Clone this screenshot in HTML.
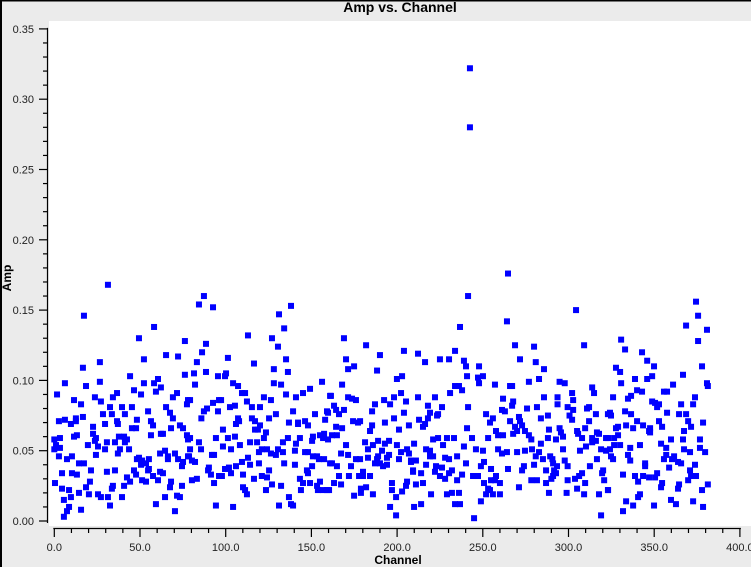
<!DOCTYPE html>
<html><head><meta charset="utf-8"><style>
html,body{margin:0;padding:0;background:#ebebeb;}
svg{display:block;font-family:"Liberation Sans",sans-serif;}
</style></head><body>
<svg id="chart" width="751" height="567" viewBox="0 0 751 567">
<rect x="0" y="0" width="751" height="567" fill="#ebebeb"/>
<rect x="0" y="0" width="2" height="567" fill="#000"/>
<rect x="0" y="0" width="751" height="1.5" fill="#000"/>
<rect x="49" y="21" width="702" height="505" fill="#fff"/>
<text x="400" y="12" text-anchor="middle" font-size="14" font-weight="bold">Amp vs. Channel</text>
<g id="yaxis"></g>
<g id="xaxis"></g>
<text x="398" y="564" text-anchor="middle" font-size="12" font-weight="bold">Channel</text>
<text x="0" y="0" transform="translate(11,278) rotate(-90)" text-anchor="middle" font-size="12" font-weight="bold">Amp</text>
<g id="points"></g>
</svg>
<script>
const yTicks = [0, 0.05, 0.10, 0.15, 0.20, 0.25, 0.30, 0.35];
const yTickLabels = ["0.00","0.05","0.10","0.15","0.20","0.25","0.30","0.35"];
const xTicks = [0, 50, 100, 150, 200, 250, 300, 350, 400];
const xTickLabels = ["0.0","50.0","100.0","150.0","200.0","250.0","300.0","350.0","400.0"];

const channels = [
31.3,17.3,58.2,49.4,76.2,52.3,65.2,72.2,26.6,16.7,
44.2,76.2,6.2,18.5,26.6,52.3,58.2,60.5,62.2,59.3,
46.5,50.6,71.6,69.2,1.6,11.5,15.6,23.7,27.2,34.2,
36.6,32.5,39.5,45.3,54.7,65.2,67.5,69.2,77.4,78.0,
28.4,33.6,41.2,6.2,2.7,9.7,12.6,12.6,16.7,22.6,
29.6,36.6,37.1,45.3,47.7,48.2,56.4,57.6,68.1,73.3,
75.1,11.5,13.2,22.6,24.3,37.7,40.7,42.4,41.2,56.4,
62.2,63.4,77.4,78.0,0,3.3,1.0,3.3,0,19.6,
23.7,25.5,29.6,30.7,35.4,43.6,38.3,37.1,24.3,2.7,
7.4,10.3,14.4,17.3,21.4,30.7,35.4,46.5,47.7,42.4,
44.2,49.4,48.2,51.2,50.6,53.5,55.2,54.7,55.2,57.6,
61.7,63.4,60.5,51.2,53.5,61.7,64.6,66.3,66.3,70.4,
72.2,75.1,74.5,78.0,4.5,10.3,13.2,0.4,4.5,8.6,
14.4,18.5,20.2,20.8,25.5,27.2,31.3,33.6,34.2,40.7,
39.5,32.5,15.6,5.6,9.7,8.6,7.4,5.6,59.3,64.6,
67.5,68.1,71.6,73.3,74.5,70.4,
87.3,84.4,92.6,138.1,131.1,134.1,113.0,127.0,130.5,88.5,
86.2,83.2,101.3,116.5,135.2,128.1,136.3,81.5,88.5,95.5,
100.2,99.6,82.1,104.3,107.2,128.1,132.3,156.2,149.2,145.1,
141.0,135.2,109.5,111.3,122.3,126.4,112.4,79.2,92.6,96.1,
97.3,89.1,87.3,95.5,102.5,105.4,115.3,120.0,139.3,152.1,
159.1,160.9,158.0,85.8,107.2,107.8,106.0,115.3,117.1,120.0,
125.3,129.3,136.9,142.2,142.2,146.3,148.0,98.4,117.1,118.8,
123.5,94.3,101.3,105.4,122.3,136.3,143.3,150.9,150.4,155.0,
157.4,156.8,159.7,79.2,84.4,98.4,103.1,108.3,114.2,118.3,
121.1,119.4,124.1,126.4,129.3,130.5,133.4,133.4,141.0,140.4,
146.3,148.0,150.9,153.3,154.4,157.4,160.9,79.2,85.6,92.0,
93.2,78.6,80.3,82.1,113.0,109.5,114.2,119.4,134.1,140.4,
150.4,147.4,148.0,125.3,90.2,89.7,91.4,99.6,101.9,106.0,
103.1,96.1,97.8,110.1,116.5,124.1,121.1,80.3,83.2,93.2,
110.1,111.3,112.4,123.5,127.0,132.3,143.3,145.1,149.2,153.3,
155.0,153.8,156.8,159.1,143.9,136.9,94.3,104.3,131.1,138.1,
139.3,
241.4,236.7,169.0,181.9,190.0,204.0,212.2,233.8,216.3,225.0,
230.3,239.0,240.2,170.2,171.4,174.9,188.3,199.9,202.9,240.8,
167.9,233.8,236.1,237.9,230.9,222.1,212.2,202.3,205.2,198.2,
192.4,195.9,187.1,185.4,176.0,173.7,171.4,161.4,163.2,164.4,
169.0,166.1,159.7,218.0,226.2,219.2,223.9,223.3,218.0,212.8,
216.3,215.1,204.0,198.2,206.9,201.1,192.9,185.4,184.2,178.4,
174.3,177.2,167.9,164.4,162.0,164.9,241.4,240.8,170.2,181.3,
185.9,188.9,192.9,195.3,199.9,209.9,205.8,202.3,206.9,216.9,
219.2,221.0,223.9,229.1,233.2,226.8,239.0,167.3,171.4,183.0,
188.9,191.2,195.3,188.3,194.1,183.0,176.0,178.4,201.1,208.1,
211.0,219.2,221.0,228.0,230.3,235.0,240.2,162.0,164.9,173.1,
187.1,190.0,191.8,194.1,208.1,209.3,209.3,216.9,222.7,226.2,
232.0,230.3,214.0,222.1,225.0,228.0,235.0,237.9,180.1,180.1,
184.2,166.1,171.9,177.8,163.2,167.3,160.3,181.9,178.9,178.9,
174.9,185.9,197.0,197.0,202.9,205.8,205.2,211.0,215.1,219.8,
229.1,232.0,236.1,199.4,195.9,199.4,209.9,214.0,233.8,236.7,
304.4,264.1,268.8,279.9,309.1,271.7,280.9,285.7,247.8,250.1,
247.2,247.8,257.1,265.9,267.1,276.9,282.8,294.8,297.8,313.8,
314.9,302.1,302.7,293.6,285.7,261.8,267.7,267.1,261.2,262.9,
275.8,281.6,293.6,299.5,302.7,310.8,312.0,316.0,323.0,300.6,
302.1,288.0,283.9,251.9,255.9,254.2,265.9,271.1,271.7,268.8,
272.9,270.0,274.6,276.9,278.3,257.7,258.9,261.8,267.7,288.6,
294.8,295.6,296.8,305.0,309.7,305.6,312.0,316.6,317.8,313.8,
321.9,316.0,313.8,310.2,307.9,292.7,288.0,283.9,243.7,253.1,
246.0,250.1,258.9,261.2,264.1,270.0,274.6,278.7,280.9,282.8,
285.1,289.3,291.0,297.8,296.8,306.7,319.0,321.9,316.6,312.5,
299.5,293.3,290.6,274.0,279.9,250.7,248.9,254.8,264.7,272.9,
286.9,291.6,292.7,291.0,320.2,319.6,320.8,307.9,306.2,303.8,
299.5,309.7,244.3,247.2,250.7,254.8,257.7,260.0,257.1,253.1,
254.2,251.9,255.9,260.0,271.1,278.3,281.6,286.9,290.0,288.6,
298.9,305.0,309.1,317.8,323.0,248.9,244.9,319.0,
242.5,242.5,264.7,
374.4,375.6,368.6,380.8,375.6,330.7,333.0,342.9,345.9,349.9,
377.9,327.7,330.1,366.8,338.8,345.9,348.8,361.0,380.8,381.3,
330.7,340.0,342.9,355.7,357.5,336.5,334.7,326.0,373.8,348.8,
350.5,352.8,351.7,365.7,372.7,357.5,364.5,368.6,333.0,336.5,
324.2,324.8,340.0,333.6,337.7,343.5,347.6,347.0,347.6,354.6,
352.8,369.8,371.5,378.5,367.4,327.7,328.9,326.6,328.9,323.1,
341.7,336.0,330.1,326.6,354.0,357.0,359.8,366.8,376.7,376.7,
379.7,367.4,370.9,357.0,355.7,361.6,360.4,363.9,365.7,324.2,
324.8,326.0,334.7,336.0,344.7,344.7,358.7,373.8,370.9,331.8,
338.8,343.5,347.0,350.5,351.7,340.6,354.6,354.0,364.5,363.9,
369.8,371.5,374.4,381.3,377.9,323.1,341.7,340.6,333.6,337.7,
349.9,359.8,362.7,372.7,378.5,331.8
];

const amps = [
.168,.146,.138,.130,.128,.115,.118,.117,.113,.109,
.103,.104,.098,.096,.099,.098,.098,.101,.095,.092,
.093,.090,.091,.088,.090,.086,.083,.088,.085,.088,
.091,.081,.081,.081,.078,.081,.077,.073,.083,.086,
.076,.076,.076,.072,.071,.069,.073,.071,.074,.067,
.069,.071,.069,.066,.066,.072,.071,.068,.066,.068,
.066,.060,.061,.062,.059,.060,.060,.058,.056,.061,
.062,.062,.061,.058,.058,.059,.054,.052,.051,.054,
.057,.053,.051,.056,.056,.051,.051,.048,.047,.046,
.044,.046,.041,.041,.036,.035,.036,.036,.033,.031,
.028,.045,.044,.043,.040,.041,.044,.036,.037,.032,
.035,.034,.029,.029,.028,.048,.050,.046,.044,.048,
.044,.042,.039,.046,.034,.034,.033,.027,.023,.022,
.020,.024,.019,.028,.019,.017,.017,.023,.025,.025,
.017,.011,.008,.015,.017,.010,.007,.003,.012,.017,
.024,.028,.018,.017,.025,.007,
.160,.154,.152,.153,.147,.137,.132,.130,.124,.126,
.120,.113,.116,.112,.115,.108,.106,.105,.106,.103,
.105,.103,.097,.098,.096,.098,.097,.099,.094,.091,
.088,.090,.091,.091,.088,.086,.085,.086,.084,.086,
.086,.080,.078,.078,.081,.082,.081,.081,.078,.076,
.078,.089,.072,.073,.073,.071,.069,.073,.071,.068,
.073,.076,.070,.070,.069,.071,.068,.065,.065,.065,
.063,.059,.059,.060,.059,.059,.059,.060,.057,.061,
.062,.059,.058,.059,.056,.053,.051,.054,.056,.056,
.051,.049,.051,.048,.047,.051,.056,.049,.055,.050,
.049,.049,.046,.046,.044,.044,.041,.051,.051,.047,
.047,.046,.043,.042,.045,.042,.040,.041,.041,.040,
.039,.036,.034,.036,.038,.036,.033,.037,.038,.039,
.034,.032,.032,.033,.030,.031,.032,.029,.030,.027,
.024,.022,.019,.022,.026,.025,.030,.027,.027,.025,
.028,.022,.022,.022,.022,.017,.011,.010,.011,.012,
.011,
.160,.138,.130,.125,.118,.121,.119,.121,.113,.115,
.115,.114,.110,.115,.108,.110,.107,.101,.103,.103,
.097,.096,.096,.093,.091,.088,.088,.091,.085,.088,
.086,.083,.083,.078,.086,.087,.088,.089,.082,.079,
.079,.076,.077,.082,.081,.077,.076,.075,.073,.072,
.069,.067,.077,.073,.068,.065,.070,.068,.064,.071,
.071,.070,.066,.067,.061,.061,.081,.066,.054,.056,
.054,.057,.055,.057,.054,.055,.051,.049,.048,.051,
.050,.058,.059,.059,.059,.054,.053,.048,.047,.051,
.046,.050,.047,.044,.045,.045,.044,.044,.044,.043,
.043,.046,.046,.045,.044,.046,.041,.041,.039,.039,
.041,.041,.039,.040,.042,.036,.035,.040,.039,.038,
.036,.034,.034,.035,.032,.030,.029,.033,.035,.032,
.032,.032,.032,.032,.027,.026,.022,.024,.023,.020,
.018,.019,.027,.022,.021,.028,.025,.026,.027,.019,
.019,.020,.020,.017,.010,.004,.010,.012,.012,.012,
.150,.142,.125,.124,.125,.115,.113,.108,.110,.103,
.102,.098,.097,.096,.096,.099,.101,.099,.098,.095,
.091,.091,.086,.088,.088,.087,.085,.082,.079,.078,
.080,.081,.083,.081,.079,.080,.081,.076,.076,.075,
.072,.075,.073,.076,.073,.070,.071,.074,.071,.067,
.068,.064,.064,.061,.058,.064,.061,.061,.062,.065,
.066,.063,.060,.064,.066,.062,.071,.063,.062,.059,
.059,.057,.056,.053,.059,.058,.059,.055,.059,.059,
.051,.050,.051,.048,.049,.049,.050,.051,.046,.049,
.044,.046,.041,.043,.051,.050,.051,.050,.044,.039,
.039,.039,.044,.039,.040,.042,.039,.037,.037,.036,
.036,.036,.034,.032,.036,.034,.029,.034,.032,.030,
.029,.027,.032,.032,.027,.029,.032,.027,.029,.023,
.022,.019,.019,.019,.024,.029,.029,.027,.030,.020,
.020,.023,.019,.019,.022,.014,.002,.004,
.322,.280,.176,
.156,.146,.139,.136,.128,.129,.122,.120,.114,.110,
.110,.109,.106,.104,.101,.101,.103,.097,.098,.096,
.098,.093,.092,.092,.092,.089,.087,.088,.088,.085,
.084,.083,.081,.083,.083,.077,.076,.076,.078,.076,
.077,.075,.071,.068,.066,.068,.066,.064,.063,.067,
.071,.071,.067,.070,.064,.066,.067,.059,.061,.059,
.054,.052,.054,.054,.055,.052,.058,.058,.058,.052,
.049,.051,.049,.047,.044,.046,.044,.042,.041,.051,
.046,.044,.047,.043,.041,.039,.038,.040,.036,.033,
.032,.032,.031,.031,.034,.028,.027,.024,.026,.023,
.029,.032,.032,.026,.022,.022,.019,.017,.014,.011,
.011,.015,.012,.014,.010,.007
];

const NS = "http://www.w3.org/2000/svg";
const X0 = 54.3, XPER = 1.714, Y0 = 521, YPER = 1406;
function xScale(c){ return X0 + c * XPER; }
function yScale(a){ return Y0 - a * YPER; }
function mk(tag, attrs){ const e = document.createElementNS(NS, tag); for (const k in attrs) e.setAttribute(k, attrs[k]); return e; }

const yaxis = document.getElementById('yaxis');
const yLine = mk('line', {x1:47.5, y1:yScale(0.35)-1, x2:47.5, y2:yScale(0)+2, stroke:'#000', 'stroke-width':1.2});


yaxis.appendChild(yLine);
for (let v = 0; v <= 35; v++) {
  const y = yScale(v / 100);
  const major = v % 5 === 0;
  const t = mk('line', {x1: major ? 39 : 43, y1:y, x2:47.5, y2:y, stroke:'#000', 'stroke-width':1.2});
  
  
  yaxis.appendChild(t);
}
yTicks.forEach((v, i) => {
  const t = mk('text', {x:34, y:yScale(v)+4, 'text-anchor':'end', 'font-size':11, fill:'#222'});
  t.textContent = yTickLabels[i];
  
  
  yaxis.appendChild(t);
});

const xaxis = document.getElementById('xaxis');
const xLine = mk('line', {x1:xScale(0)-1, y1:528.5, x2:xScale(400)+1, y2:528.5, stroke:'#000', 'stroke-width':1.2});


xaxis.appendChild(xLine);
for (let v = 0; v <= 400; v += 10) {
  const x = xScale(v);
  const major = v % 50 === 0;
  const t = mk('line', {x1:x, y1:528.5, x2:x, y2: major ? 537 : 533, stroke:'#000', 'stroke-width':1.2});
  
  
  xaxis.appendChild(t);
}
xTicks.forEach((v, i) => {
  const t = mk('text', {x:xScale(v), y:551, 'text-anchor':'middle', 'font-size':11, fill:'#222'});
  t.textContent = xTickLabels[i];
  
  
  xaxis.appendChild(t);
});

const pts = document.getElementById('points');
const n = Math.min(channels.length, amps.length);
for (let i = 0; i < n; i++) {
  const r = mk('rect', {x: xScale(channels[i]) - 3, y: yScale(amps[i]) - 3, width: 6, height: 6, fill: '#0000ff'});
  
  
  pts.appendChild(r);
}
</script>
</body></html>
